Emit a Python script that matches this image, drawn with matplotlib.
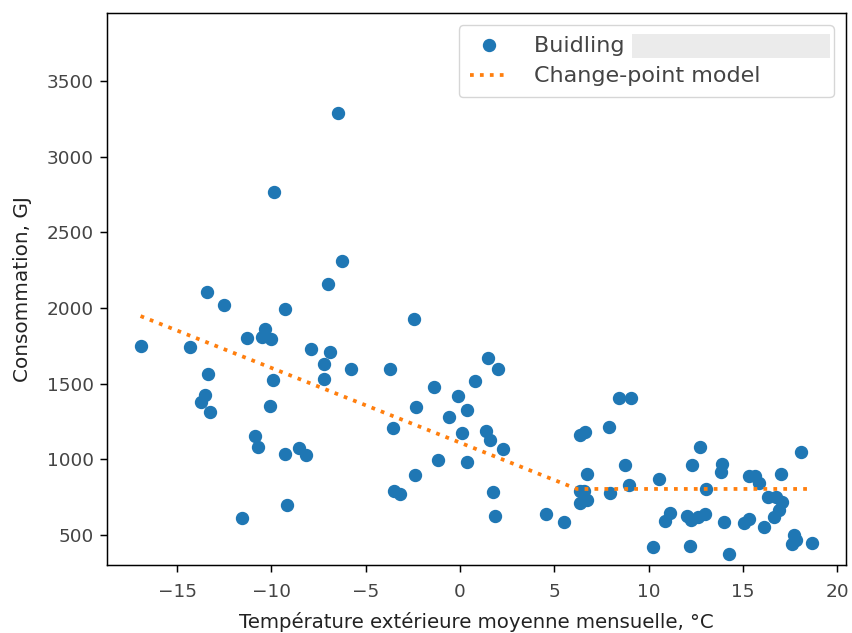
import numpy as np
import matplotlib
matplotlib.use("Agg")
import matplotlib.pyplot as plt
from matplotlib.patches import Rectangle

# Monthly mean outdoor temperature (°C) and consumption (GJ)
temp = [-16.94, -14.30, -13.43, -13.35, -13.52, -13.73, -13.25, -12.50, -11.54, -11.31,
        -10.89, -10.69, -10.34, -10.48, -10.03, -10.10, -9.88, -9.91, -9.29, -9.30,
        -9.18, -8.56, -8.15, -7.90, -7.20, -7.22, -6.99, -6.90, -6.47, -6.27,
        -5.79, -3.71, -3.53, -3.50, -3.19, -2.44, -2.34, -2.37, -1.39, -1.17,
        -0.56, -0.12, 0.13, 0.36, 0.36, 0.77, 1.49, 1.39, 1.60, 1.75,
        1.88, 2.02, 2.27, 4.58, 5.53, 6.37, 6.61, 6.76, 6.34, 6.59,
        6.34, 6.73, 7.89, 7.96, 8.44, 9.07, 8.77, 8.97, 10.22, 10.57,
        10.87, 11.14, 12.02, 12.25, 12.20, 12.29, 12.72, 12.63, 12.99, 13.03,
        13.98, 13.87, 13.83, 14.24, 15.05, 15.33, 15.35, 15.62, 15.84, 16.11,
        16.34, 16.75, 17.01, 17.06, 16.94, 16.65, 18.10, 17.73, 17.80, 17.63,
        18.69]
conso = [1746, 1740, 2103, 1562, 1425, 1375, 1309, 2017, 611, 1798,
         1152, 1080, 1861, 1808, 1795, 1350, 2766, 1520, 1993, 1031,
         697, 1071, 1026, 1731, 1630, 1530, 2161, 1711, 3287, 2309,
         1593, 1593, 1209, 792, 770, 1929, 1346, 898, 1479, 997,
         1278, 1417, 1174, 1322, 982, 1514, 1669, 1189, 1128, 783,
         627, 1598, 1066, 638, 583, 1160, 1182, 900, 792, 790,
         713, 730, 1215, 777, 1404, 1404, 960, 830, 418, 868,
         591, 646, 625, 600, 427, 962, 1077, 618, 638, 804,
         587, 967, 918, 372, 578, 603, 887, 888, 845, 553,
         747, 753, 901, 716, 661, 620, 1050, 499, 466, 436,
         444]

# change-point model (heating slope, then flat baseload)
model_x = [-16.94, 6.2, 18.69]
model_y = [1946, 803, 803]

fig, ax = plt.subplots(figsize=(8.53, 6.33), dpi=100)
fig.subplots_adjust(left=0.1254, right=0.9918, top=0.9795, bottom=0.1074)

ax.plot(temp, conso, 'o', color='#1f77b4', markersize=8.6,
        label='Buidling' + '\u2007' * 14)
ax.plot(model_x, model_y, ':', color='#ff7f0e', linewidth=2.7,
        label='Change-point model')

ax.set_ylim(300, 3950)
ax.set_xticks([-15, -10, -5, 0, 5, 10, 15, 20])
ax.set_yticks([500, 1000, 1500, 2000, 2500, 3000, 3500])
ax.tick_params(labelsize=13.3, length=4.7, width=1.07, pad=4.7, labelcolor='#444444')
ax.tick_params(axis='x', pad=8)
for s in ax.spines.values():
    s.set_linewidth(1.07)

ax.set_xlabel('Température extérieure moyenne mensuelle, °C', fontsize=14.2,
              color='#222222', labelpad=8)
ax.set_ylabel('Consommation, GJ', fontsize=14.4, color='#222222', labelpad=11)

leg = ax.legend(loc='upper right', fontsize=16, labelcolor='#444444',
                borderaxespad=0.55, borderpad=0.5, labelspacing=0.45,
                handlelength=1.7, handletextpad=1.2)

# grey box hiding the building name
fig.canvas.draw()
r = fig.canvas.get_renderer()
t = leg.get_texts()[0]
bb = t.get_window_extent(r)
w, h, d = r.get_text_width_height_descent('Buidling ', t.get_fontproperties(), ismath=False)
fb = leg.get_frame().get_window_extent(r)
x0 = bb.x0 + w
x1 = fb.x1 - 4
y0 = bb.y0 - 2
y1 = bb.y1 + 2
fig.patches.append(Rectangle((x0 / fig.bbox.width, y0 / fig.bbox.height),
                             (x1 - x0) / fig.bbox.width, (y1 - y0) / fig.bbox.height,
                             transform=fig.transFigure, facecolor='#ebebeb',
                             edgecolor='none', zorder=10))

fig.savefig('out.png', dpi=100)
